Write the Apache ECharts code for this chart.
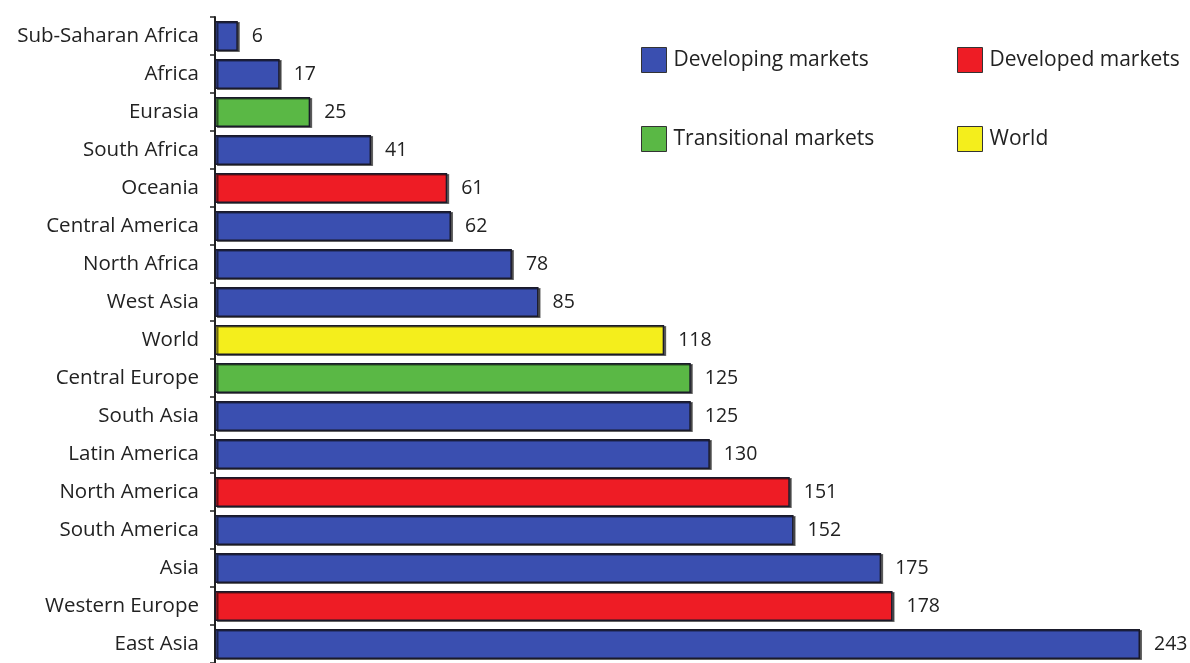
<!DOCTYPE html>
<html>
<head>
<meta charset="utf-8">
<script src="https://cdn.jsdelivr.net/npm/echarts@6/dist/echarts.min.js"></script>
<style>
  html, body { margin: 0; padding: 0; background: #fff; }
  #chart { width: 1190px; height: 663px; }
</style>
</head>
<body>
<div id="chart"></div>
<script>
// Regions, top to bottom
const regions = [
  'Sub-Saharan Africa', 'Africa', 'Eurasia', 'South Africa', 'Oceania',
  'Central America', 'North Africa', 'West Asia', 'World', 'Central Europe',
  'South Asia', 'Latin America', 'North America', 'South America', 'Asia',
  'Western Europe', 'East Asia'
];
const values = [6, 17, 25, 41, 61, 62, 78, 85, 118, 125, 125, 130, 151, 152, 175, 178, 243];
// Market group of each region
const groups = [
  'Developing markets', 'Developing markets', 'Transitional markets', 'Developing markets',
  'Developed markets', 'Developing markets', 'Developing markets', 'Developing markets',
  'World', 'Transitional markets', 'Developing markets', 'Developing markets',
  'Developed markets', 'Developing markets', 'Developing markets', 'Developed markets',
  'Developing markets'
];
const groupNames = ['Developing markets', 'Developed markets', 'Transitional markets', 'World'];
const groupColors = ['#3a4fb0', '#ee1c25', '#5ab845', '#f4ee1c'];

const font = '"Open Sans", "Noto Sans", sans-serif';

const series = groupNames.map((g, gi) => ({
  name: g,
  type: 'bar',
  stack: 'all',
  barWidth: 30,
  data: values.map((v, i) => (groups[i] === g ? v : '-')),
  itemStyle: {
    color: groupColors[gi],
    borderColor: '#1a1a2a',
    borderWidth: 1.5,
    shadowColor: 'rgba(0,0,0,0.55)',
    shadowOffsetX: 2,
    shadowOffsetY: 1
  },
  label: {
    show: true,
    position: 'right',
    distance: 14,
    color: '#222',
    fontFamily: font,
    fontSize: 19.5
  }
}));

const legendPos = [
  { left: 636, top: 42 },
  { left: 952, top: 42 },
  { left: 636, top: 121 },
  { left: 952, top: 121 }
];
const legends = groupNames.map((g, gi) => ({
  data: [g],
  left: legendPos[gi].left,
  top: legendPos[gi].top,
  icon: 'rect',
  itemWidth: 25,
  itemHeight: 25,
  itemGap: 6,
  selectedMode: false,
  itemStyle: { borderColor: '#333', borderWidth: 1, shadowBlur: 0, shadowOffsetX: 0, shadowOffsetY: 0 },
  textStyle: { fontFamily: font, fontSize: 21, color: '#222', padding: [0, 0, 0, 2] }
}));

const chart = echarts.init(document.getElementById('chart'));
chart.setOption({
  animation: false,
  backgroundColor: '#fff',
  legend: legends,
  grid: { left: 215, top: 17, width: 925, height: 650 },
  xAxis: {
    type: 'value',
    min: 0,
    max: Math.max(...values),
    show: false
  },
  yAxis: {
    type: 'category',
    data: regions,
    inverse: true,
    axisLine: { show: true, lineStyle: { color: '#222', width: 2 } },
    axisTick: { show: true, length: 5, lineStyle: { color: '#222', width: 1.5 } },
    axisLabel: { color: '#222', fontFamily: font, fontSize: 20.5, margin: 16 },
    splitLine: { show: false }
  },
  series: series
});
</script>
</body>
</html>
